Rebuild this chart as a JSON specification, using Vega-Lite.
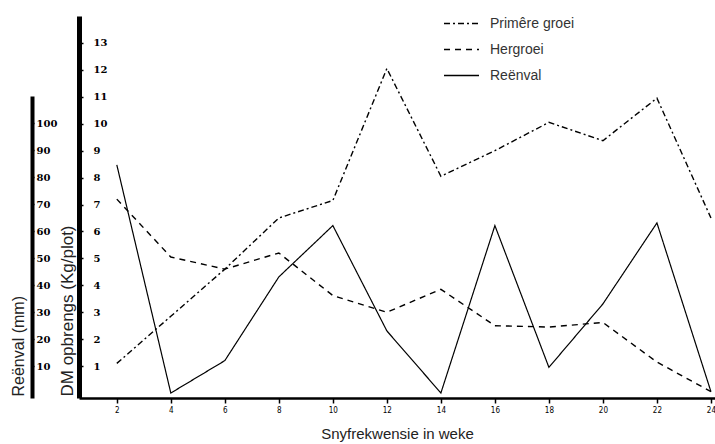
{
  "$schema": "https://vega.github.io/schema/vega-lite/v6.json",
  "autosize": {"type": "none"},
  "padding": {"left": 79, "top": 16, "right": 0, "bottom": 46},
  "width": 636,
  "height": 382,
  "background": "white",
  "config": {"view": {"stroke": null}, "font": "Liberation Sans"},
  "data": {
    "values": [
      {"week": 2, "series": "Primêre groei", "value": 1.1},
      {"week": 4, "series": "Primêre groei", "value": 2.85},
      {"week": 6, "series": "Primêre groei", "value": 4.6},
      {"week": 8, "series": "Primêre groei", "value": 6.5},
      {"week": 10, "series": "Primêre groei", "value": 7.15},
      {"week": 12, "series": "Primêre groei", "value": 12.05},
      {"week": 14, "series": "Primêre groei", "value": 8.05},
      {"week": 16, "series": "Primêre groei", "value": 9.0},
      {"week": 18, "series": "Primêre groei", "value": 10.05},
      {"week": 20, "series": "Primêre groei", "value": 9.37},
      {"week": 22, "series": "Primêre groei", "value": 10.95},
      {"week": 24, "series": "Primêre groei", "value": 6.5},
      {"week": 2, "series": "Hergroei", "value": 7.2},
      {"week": 4, "series": "Hergroei", "value": 5.05},
      {"week": 6, "series": "Hergroei", "value": 4.6},
      {"week": 8, "series": "Hergroei", "value": 5.2},
      {"week": 10, "series": "Hergroei", "value": 3.62},
      {"week": 12, "series": "Hergroei", "value": 3.0},
      {"week": 14, "series": "Hergroei", "value": 3.85},
      {"week": 16, "series": "Hergroei", "value": 2.5},
      {"week": 18, "series": "Hergroei", "value": 2.45},
      {"week": 20, "series": "Hergroei", "value": 2.62},
      {"week": 22, "series": "Hergroei", "value": 1.15},
      {"week": 24, "series": "Hergroei", "value": 0.05},
      {"week": 2, "series": "Reënval", "value": 84.5},
      {"week": 4, "series": "Reënval", "value": 0},
      {"week": 6, "series": "Reënval", "value": 12},
      {"week": 8, "series": "Reënval", "value": 43},
      {"week": 10, "series": "Reënval", "value": 62},
      {"week": 12, "series": "Reënval", "value": 23},
      {"week": 14, "series": "Reënval", "value": 0},
      {"week": 16, "series": "Reënval", "value": 62},
      {"week": 18, "series": "Reënval", "value": 9.5},
      {"week": 20, "series": "Reënval", "value": 33},
      {"week": 22, "series": "Reënval", "value": 63},
      {"week": 24, "series": "Reënval", "value": 0.5}
    ]
  },
  "encoding": {
    "x": {
      "field": "week",
      "type": "quantitative",
      "scale": {"domain": [0.6, 24.15], "nice": false, "zero": false},
      "axis": {
        "title": "Snyfrekwensie in weke",
        "values": [2, 4, 6, 8, 10, 12, 14, 16, 18, 20, 22, 24],
        "grid": false,
        "domainColor": "black",
        "domainWidth": 2.5,
        "tickColor": "black",
        "tickWidth": 1.5,
        "tickSize": 5,
        "labelFont": "DejaVu Sans Condensed",
        "labelFontSize": 8,
        "labelColor": "black",
        "labelPadding": 3,
        "titleFont": "Liberation Sans",
        "titleFontSize": 15,
        "titleFontWeight": "normal",
        "titleColor": "#222",
        "titlePadding": 12
      }
    },
    "strokeDash": {
      "field": "series",
      "type": "nominal",
      "scale": {
        "domain": ["Primêre groei", "Hergroei", "Reënval"],
        "range": [[6, 3, 2, 3], [6, 5], [1, 0]]
      },
      "legend": {
        "title": null,
        "orient": "none",
        "legendX": 364,
        "legendY": -11,
        "symbolType": "stroke",
        "symbolSize": 1225,
        "symbolStrokeColor": "black",
        "symbolStrokeWidth": 1.5,
        "labelFont": "Liberation Sans",
        "labelFontSize": 14,
        "labelColor": "#333",
        "labelOffset": 10,
        "rowPadding": -8
      }
    }
  },
  "layer": [
    {
      "transform": [{"filter": "datum.series !== 'Reënval'"}],
      "mark": {"type": "line", "color": "black", "strokeWidth": 1.4, "clip": true},
      "encoding": {
        "y": {
          "field": "value",
          "type": "quantitative",
          "scale": {"domain": [-0.185, 14], "nice": false, "zero": false},
          "axis": {
            "orient": "right",
            "offset": -636,
            "title": "DM opbrengs (Kg/plot)",
            "values": [1, 2, 3, 4, 5, 6, 7, 8, 9, 10, 11, 12, 13],
            "grid": false,
            "domainColor": "black",
            "domainWidth": 5,
            "tickColor": "black",
            "tickWidth": 1.5,
            "tickSize": 4,
            "labelFont": "DejaVu Serif",
            "labelFontWeight": "bold",
            "labelFontSize": 10,
            "labelColor": "black",
            "labelPadding": 10,
            "titleFont": "Liberation Sans",
            "titleFontSize": 17,
            "titleFontWeight": "normal",
            "titleColor": "#222",
            "titleAngle": 270,
            "titleAlign": "left",
            "titleBaseline": "middle",
            "titleX": -12,
            "titleY": 380
          }
        }
      }
    },
    {
      "transform": [{"filter": "datum.series === 'Reënval'"}],
      "mark": {"type": "line", "color": "black", "strokeWidth": 1.2, "clip": true},
      "encoding": {
        "y": {
          "field": "value",
          "type": "quantitative",
          "scale": {"domain": [-1.85, 110], "range": [382, 80], "nice": false, "zero": false},
          "axis": {
            "orient": "right",
            "offset": -683,
            "title": "Reënval (mm)",
            "values": [10, 20, 30, 40, 50, 60, 70, 80, 90, 100],
            "grid": false,
            "domainColor": "black",
            "domainWidth": 4,
            "tickColor": "black",
            "tickWidth": 1.5,
            "tickSize": 2,
            "labelFont": "DejaVu Serif",
            "labelFontWeight": "bold",
            "labelFontSize": 10,
            "labelColor": "black",
            "labelPadding": 2,
            "titleFont": "Liberation Sans",
            "titleFontSize": 16,
            "titleFontWeight": "normal",
            "titleColor": "#222",
            "titleAngle": 270,
            "titleAlign": "left",
            "titleBaseline": "middle",
            "titleX": -14,
            "titleY": 380
          }
        }
      }
    }
  ],
  "resolve": {"scale": {"y": "independent"}, "axis": {"y": "independent"}}
}
